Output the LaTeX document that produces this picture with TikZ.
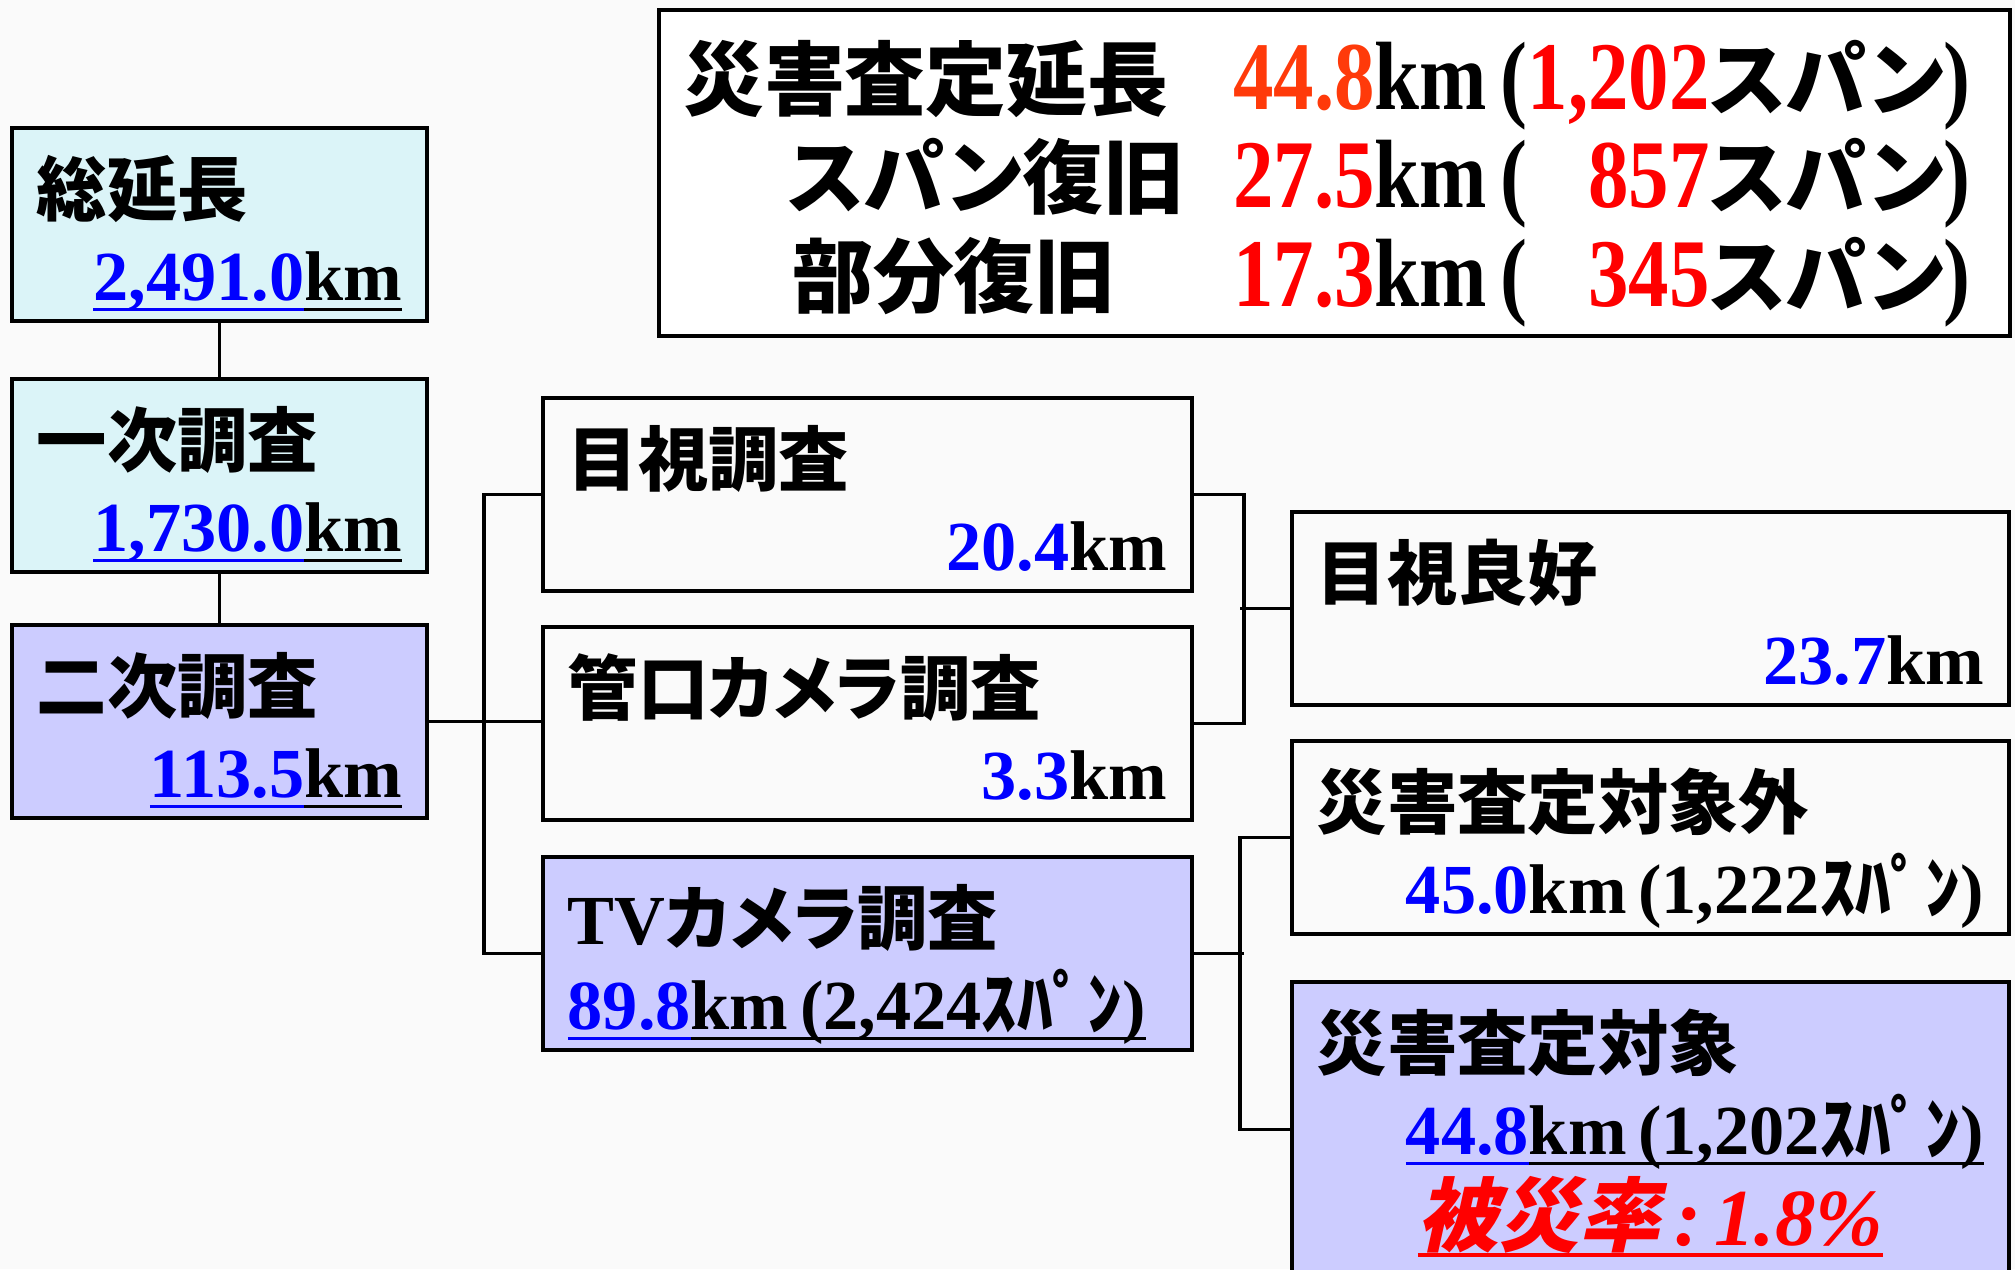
\documentclass[tikz,border=0pt]{standalone}
\usepackage{fontspec}
\setmainfont{Noto Sans CJK JP}[RawFeature=+palt]
\newfontfamily\jp{Noto Sans CJK JP}
\newfontfamily\serifnum{Liberation Serif}
\newfontfamily\jpslant{Noto Sans CJK JP}[FakeSlant=0.22]
\usepackage{xcolor}
\usetikzlibrary{positioning}
\definecolor{numblue}{HTML}{0000FF}
\definecolor{hotred}{HTML}{FF0000}
\definecolor{orred}{HTML}{FF3A0A}
\definecolor{paleaqua}{HTML}{DBF4F8}
\definecolor{lavender}{HTML}{CCCCFF}
\definecolor{paper}{HTML}{FAFAFA}

\newcommand\ulpart[1]{\setbox0\hbox{#1}\rlap{\rule[-3.2pt]{\wd0}{1pt}}\box0}
\newcommand\bnum[1]{\textcolor{numblue}{\serifnum #1}}
\newcommand\bnumul[1]{\textcolor{numblue}{\ulpart{\serifnum #1}}}
\newcommand\tallnum[1]{\scalebox{1}[1.2]{\serifnum #1}}
\newcommand\rnum[1]{\textcolor{hotred}{\tallnum{#1}}}
\newcommand\rline[1]{\hbox to \hsize{\hfil #1}}
\newcommand\midline[1]{\hbox to \hsize{\hfil #1\hfil}}

\begin{document}
\begin{tikzpicture}[x=0.01cm, y=-0.01cm,
    card/.style={draw, line width=1pt, anchor=north west, inner xsep=0.25cm, inner ysep=0pt,
      align=left, text height=0.88cm, text depth=1.05cm, font=\fontsize{20}{24}\selectfont\bfseries},
    leftcard/.style={card, text width=3.65cm},
    midcard/.style={card, text width=5.99cm},
    rightcard/.style={card, text width=6.67cm},
    sumbox/.style={draw, line width=1.2pt, fill=white, anchor=north west, inner xsep=0.24cm, inner ysep=0pt,
      text width=13.02cm, text height=0.99cm, text depth=2.27cm, align=left, font=\fontsize{23}{28}\selectfont\bfseries},
    link/.style={line width=1pt}]
  \useasboundingbox (0,0) rectangle (2015,1269);
  \clip (0,0) rectangle (2015,1269);
  \fill[paper] (0,0) rectangle (2015,1269);

  % summary of the damage survey
  \node[sumbox] (summary) at (657,8) {%
    \makebox[5.5cm][l]{災害査定延長}\textcolor{orred}{\tallnum{44.8}}\tallnum{km\,(}\rnum{1,202}スパン\tallnum{)}\\
    \makebox[5.5cm][l]{\hspace{1.05cm}スパン復旧}\rnum{27.5}\tallnum{km\,(\phantom{1,}}\rnum{857}スパン\tallnum{)}\\
    \makebox[5.5cm][l]{\hspace{1.09cm}部分復旧}\rnum{17.3}\tallnum{km\,(\phantom{1,}}\rnum{345}スパン\tallnum{)}};

  % survey steps
  \node[leftcard, fill=paleaqua] (total) at (10,126) {総延長\\\rline{\bnumul{2,491.0}\ulpart{\serifnum km}}};
  \node[leftcard, fill=paleaqua] (first) at (10,377) {一次調査\\\rline{\bnumul{1,730.0}\ulpart{\serifnum km}}};
  \node[leftcard, fill=lavender] (second) at (10,623) {二次調査\\\rline{\bnumul{113.5}\ulpart{\serifnum km}}};

  \node[midcard] (mokushi) at (541,396) {目視調査\\\rline{\bnum{20.4}{\serifnum km}}};
  \node[midcard] (kanko) at (541,625) {管口カメラ調査\\\rline{\bnum{3.3}{\serifnum km}}};
  \node[midcard, fill=lavender] (tv) at (541,855) {{\serifnum TV}カメラ調査\\\bnumul{89.8}\ulpart{\serifnum km\,(2,424{\jp ｽﾊﾟﾝ})}};

  \node[rightcard] (ryoko) at (1290,510) {目視良好\\\rline{\bnum{23.7}{\serifnum km}}};
  \node[rightcard] (taishogai) at (1290,739) {災害査定対象外\\\rline{\bnum{45.0}{\serifnum km\,(1,222{\jp ｽﾊﾟﾝ})}}};
  \node[rightcard, fill=lavender, text depth=2.07cm] (taisho) at (1290,980) {災害査定対象\\\rline{\bnumul{44.8}\ulpart{\serifnum km\,(1,202{\jp ｽﾊﾟﾝ})}}\vskip2pt
    \midline{\fontsize{23}{26}\selectfont\color{hotred}\ulpart{{\jpslant 被災率}{\serifnum\itshape\,:\,1.8\%}}}};

  % connectors
  \draw[link] (total) -- (first);
  \draw[link] (first) -- (second);
  \draw[link] (second.east) -- (second.east -| kanko.west);
  \draw[link] (mokushi.west) -- ++(-57,0) |- (tv.west);
  \draw[link] (mokushi.east) -- ++(50,0) |- (kanko.east);
  \draw[link] (ryoko.west) -- ++(-50,0);
  \draw[link] (taishogai.west) -- ++(-50,0) |- (taisho.west);
  \draw[link] (tv.east) -- ++(50,0);
\end{tikzpicture}
\end{document}
